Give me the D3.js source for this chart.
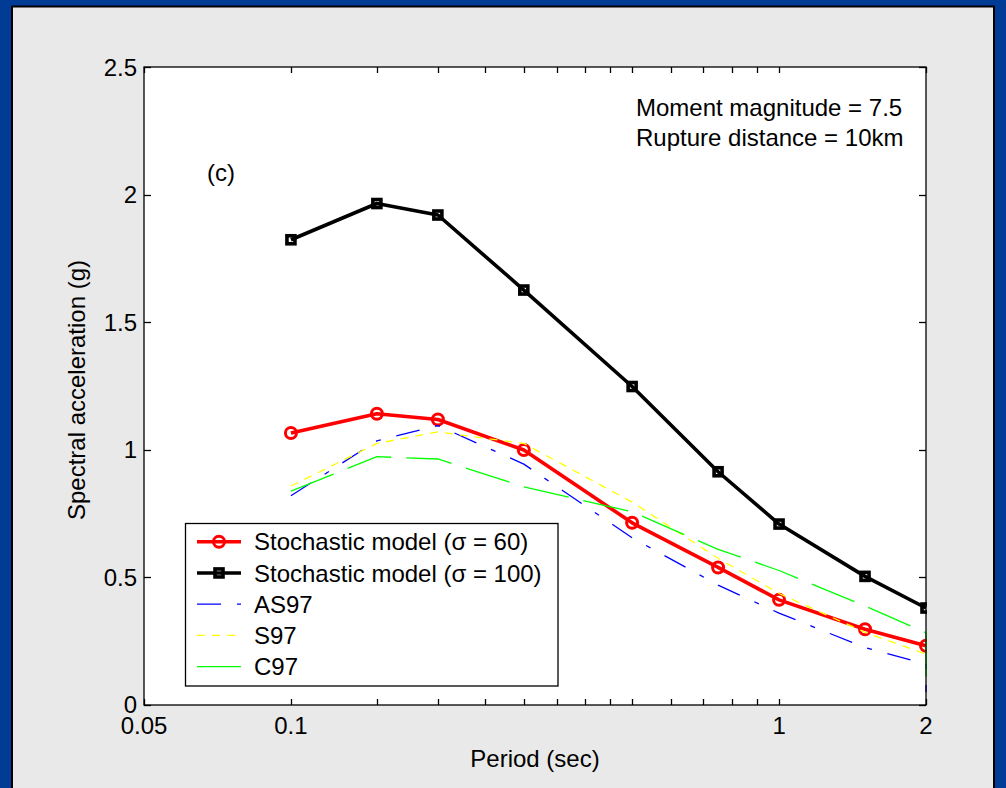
<!DOCTYPE html>
<html><head><meta charset="utf-8">
<script src="https://cdn.jsdelivr.net/npm/d3@7"></script>
<style>body{margin:0;background:#e9e9e9}svg{display:block}text{font-family:"Liberation Sans",Arial,sans-serif;fill:#000}</style>
</head><body><svg id="c" width="1006" height="788"></svg>
<script>
// ---- data ----
const periods = [0.1, 0.15, 0.2, 0.3, 0.5, 0.75, 1, 1.5, 2];
const stoch60 = [1.066, 1.141, 1.119, 0.999, 0.714, 0.539, 0.412, 0.297, 0.232];
const stoch100 = [1.823, 1.965, 1.920, 1.626, 1.248, 0.914, 0.709, 0.504, 0.380];
const refPeriods = [0.1, 0.15, 0.2, 0.3, 0.5, 0.75, 1, 1.5, 2, 2];
const as97 = [0.820, 1.035, 1.095, 0.944, 0.655, 0.470, 0.360, 0.225, 0.161, 0.05];
const s97 = [0.858, 1.025, 1.070, 1.025, 0.795, 0.575, 0.437, 0.285, 0.199];
const c97 = [0.838, 0.973, 0.964, 0.855, 0.757, 0.610, 0.527, 0.388, 0.283, 0.105];
const xTicks = [0.05, 0.1, 0.15, 0.2, 0.25, 0.3, 0.35, 0.4, 0.45, 0.5, 0.6, 0.7, 0.8, 0.9, 1, 2];
const xTickLabels = ["0.05", "0.1", "1", "2"];
const xLabelTicks = [0.05, 0.1, 1, 2];
const yTicks = [0, 0.5, 1, 1.5, 2, 2.5];
const yTickLabels = ["0", "0.5", "1", "1.5", "2", "2.5"];
const legendLabels = ["Stochastic model (\u03c3 = 60)", "Stochastic model (\u03c3 = 100)", "AS97", "S97", "C97"];

// ---- layout ----
const svg = d3.select("#c");
const W = 1006, H = 788;
const L = 144, R = 926, T = 67, B = 705;
const FS = 24;

// frame
svg.append("rect").attr("x", 0).attr("y", 0).attr("width", W).attr("height", H).attr("fill", "#003c96");
svg.append("rect").attr("x", 12).attr("y", 6.5).attr("width", 982).attr("height", 800)
  .attr("fill", "#e9e9e9").attr("stroke", "#000").attr("stroke-width", 2);

const x = d3.scaleLog().domain([0.05, 2]).range([L, R]);
const y = d3.scaleLinear().domain([0, 2.5]).range([B, T]);

svg.append("rect").attr("x", L).attr("y", T).attr("width", R - L).attr("height", B - T).attr("fill", "#fff");

svg.append("clipPath").attr("id", "clip").append("rect")
  .attr("x", L).attr("y", T - 2).attr("width", R - L + 1).attr("height", B - T + 2);
const g = svg.append("g").attr("clip-path", "url(#clip)");

const line = d3.line().x(d => x(d[0])).y(d => y(d[1]));

const styles = [
  {color: "#ff0000", w: 3.6, dash: null, marker: "circle"},
  {color: "#000000", w: 3.6, dash: null, marker: "square"},
  {color: "#0000ff", w: 1.3, dash: "24,16,5,16", marker: null},
  {color: "#ffff00", w: 1.3, dash: "8,7", marker: null},
  {color: "#00ff00", w: 1.3, dash: "46,15", marker: null}
];
const seriesData = [
  d3.zip(periods, stoch60),
  d3.zip(periods, stoch100),
  d3.zip(refPeriods, as97),
  d3.zip(periods, s97),
  d3.zip(refPeriods, c97)
];

function drawMarker(sel, type, color, cx, cy) {
  if (type === "circle") {
    sel.append("circle").attr("cx", cx).attr("cy", cy).attr("r", 5.5)
      .attr("fill", "none").attr("stroke", color).attr("stroke-width", 3);
  } else if (type === "square") {
    sel.append("rect").attr("x", cx - 4).attr("y", cy - 4).attr("width", 8).attr("height", 8)
      .attr("fill", "none").attr("stroke", color).attr("stroke-width", 3.6);
  }
}

seriesData.forEach((data, i) => {
  const s = styles[i];
  const p = g.append("path").datum(data).attr("d", line)
    .attr("fill", "none").attr("stroke", s.color).attr("stroke-width", s.w)
    .attr("stroke-linejoin", "round");
  if (s.dash) p.attr("stroke-dasharray", s.dash);
  if (s.marker) data.forEach(d => drawMarker(g, s.marker, s.color, x(d[0]), y(d[1])));
});

// axes box + ticks
const ax = svg.append("g").attr("stroke", "#000").attr("stroke-width", 1.3);
ax.append("rect").attr("x", L).attr("y", T).attr("width", R - L).attr("height", B - T).attr("fill", "none");
xTicks.forEach(t => {
  const px = Math.round(x(t)) + 0.5;
  ax.append("line").attr("x1", px).attr("x2", px).attr("y1", B).attr("y2", B - 6);
  ax.append("line").attr("x1", px).attr("x2", px).attr("y1", T).attr("y2", T + 6);
});
yTicks.forEach(t => {
  const py = Math.round(y(t)) + 0.5;
  ax.append("line").attr("x1", L).attr("x2", L + 7).attr("y1", py).attr("y2", py);
  ax.append("line").attr("x1", R).attr("x2", R - 7).attr("y1", py).attr("y2", py);
});

// tick labels
xLabelTicks.forEach((t, i) => {
  svg.append("text").attr("x", x(t)).attr("y", 734).attr("text-anchor", "middle")
    .attr("font-size", FS).text(xTickLabels[i]);
});
yTicks.forEach((t, i) => {
  svg.append("text").attr("x", 137).attr("y", y(t) - (t === 0 ? 1 : 0)).attr("dy", "0.36em").attr("text-anchor", "end")
    .attr("font-size", FS).text(yTickLabels[i]);
});

// axis titles
svg.append("text").attr("x", (L + R) / 2).attr("y", 767).attr("text-anchor", "middle")
  .attr("font-size", FS).text("Period (sec)");
svg.append("text").attr("transform", `translate(85,${(T + B) / 2 + 4}) rotate(-90)`)
  .attr("text-anchor", "middle").attr("font-size", FS).text("Spectral acceleration (g)");

// annotations
svg.append("text").attr("x", 636).attr("y", 116).attr("font-size", FS).text("Moment magnitude = 7.5");
svg.append("text").attr("x", 636).attr("y", 146).attr("font-size", FS).text("Rupture distance = 10km");
svg.append("text").attr("x", 207).attr("y", 181).attr("font-size", FS).text("(c)");

// legend
const lg = svg.append("g");
lg.append("rect").attr("x", 185.5).attr("y", 523.5).attr("width", 372.5).attr("height", 162.5)
  .attr("fill", "#fff").attr("stroke", "#000").attr("stroke-width", 1.3);
legendLabels.forEach((lab, i) => {
  const cy = 541.7 + i * 31.25;
  const s = styles[i];
  const ln = lg.append("line").attr("x1", 197).attr("x2", 241).attr("y1", cy).attr("y2", cy)
    .attr("stroke", s.color).attr("stroke-width", s.w);
  if (s.dash) ln.attr("stroke-dasharray", s.dash);
  if (s.marker) drawMarker(lg, s.marker, s.color, 219, cy);
  lg.append("text").attr("x", 254).attr("y", cy).attr("dy", "0.36em").attr("font-size", FS).text(lab);
});
</script>
</body></html>
